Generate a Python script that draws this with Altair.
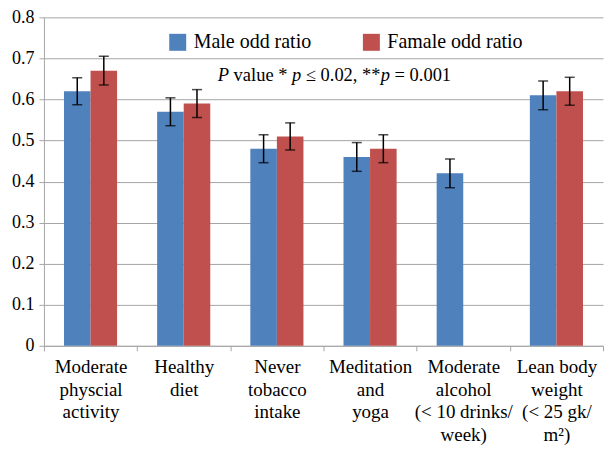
import altair as alt
import pandas as pd

categories = [
    "Moderate|physcial|activity",
    "Healthy|diet",
    "Never|tobacco|intake",
    "Meditation|and|yoga",
    "Moderate|alcohol|(< 10 drinks/|week)",
    "Lean body|weight|(< 25 gk/|m²)",
]
series = ["Male odd ratio", "Famale odd ratio"]
male = [0.62, 0.57, 0.48, 0.46, 0.42, 0.61]
female = [0.67, 0.59, 0.51, 0.48, None, 0.62]
male_err = [0.033, 0.034, 0.034, 0.035, 0.035, 0.035]
female_err = [0.035, 0.034, 0.033, 0.034, None, 0.034]
colors = ["#4F81BD", "#C0504D"]

rows = []
for i, c in enumerate(categories):
    for s, vals, errs in ((series[0], male, male_err), (series[1], female, female_err)):
        v, e = vals[i], errs[i]
        if v is None:
            continue
        rows.append({"cat": c, "series": s, "value": v, "lo": v - e, "hi": v + e})
df = pd.DataFrame(rows)

FONT = "Liberation Serif"
GRID = "#a6a6a6"

base = alt.Chart(df).encode(
    x=alt.X(
        "cat:N",
        sort=categories,
        scale=alt.Scale(paddingInner=0, paddingOuter=0),
        axis=alt.Axis(
            title=None,
            labelAngle=0,
            labelFont=FONT,
            labelFontSize=19,
            labelColor="black",
            labelExpr="split(datum.label, '|')",
            labelLineHeight=22.5,
            labelPadding=7,
            tickBand="extent",
            tickColor=GRID,
            tickSize=5,
            domainColor=GRID,
            grid=False,
        ),
    ),
    xOffset=alt.XOffset(
        "series:N", sort=series, scale=alt.Scale(paddingInner=0, paddingOuter=0.754)
    ),
)

bars = base.mark_bar().encode(
    y=alt.Y(
        "value:Q",
        scale=alt.Scale(domain=[0, 0.8]),
        axis=alt.Axis(
            title=None,
            values=[0, 0.1, 0.2, 0.3, 0.4, 0.5, 0.6, 0.7, 0.8],
            labelExpr="datum.value == 0 ? '0' : format(datum.value, '.1f')",
            labelFont=FONT,
            labelFontSize=18,
            labelColor="black",
            labelPadding=5,
            tickColor=GRID,
            tickSize=5,
            domainColor=GRID,
            gridColor=GRID,
        ),
    ),
    color=alt.Color(
        "series:N",
        sort=series,
        scale=alt.Scale(domain=series, range=colors),
        legend=alt.Legend(
            title=None,
            orient="none",
            legendX=124,
            legendY=15,
            direction="horizontal",
            symbolType="square",
            symbolSize=289,
            symbolStrokeWidth=0,
            labelFont=FONT,
            labelFontSize=20,
            labelColor="black",
            labelOffset=6,
            columnPadding=50,
            padding=0,
        ),
    ),
)

err = base.mark_rule(color="black", strokeWidth=1.5).encode(y="lo:Q", y2="hi:Q")
cap_lo = base.mark_tick(color="black", thickness=1.5, size=10, orient="horizontal").encode(y="lo:Q")
cap_hi = base.mark_tick(color="black", thickness=1.5, size=10, orient="horizontal").encode(y="hi:Q")

seg_text = ["P", "value *", "p", "≤ 0.02, **", "p", "= 0.001"]
seg_style = ["italic", "normal", "italic", "normal", "italic", "normal"]
seg_x = [174, 190, 248.5, 262.3, 337.3, 351.2]

ann_layers = []
for t, st, xv in zip(seg_text, seg_style, seg_x):
    ann_layers.append(
        alt.Chart(df.head(1))
        .mark_text(text=t, fontStyle=st, font=FONT, fontSize=18.5, align="left",
                   baseline="alphabetic", color="black")
        .encode(x=alt.value(xv), y=alt.value(64))
    )

chart = alt.layer(bars, err, cap_lo, cap_hi, *ann_layers).properties(
    width=560, height=329, padding={"left": 3, "top": 0, "right": 0, "bottom": 0}
).configure_view(stroke=None)

chart.save("out.html", embed_options={"renderer": "svg", "actions": False})
